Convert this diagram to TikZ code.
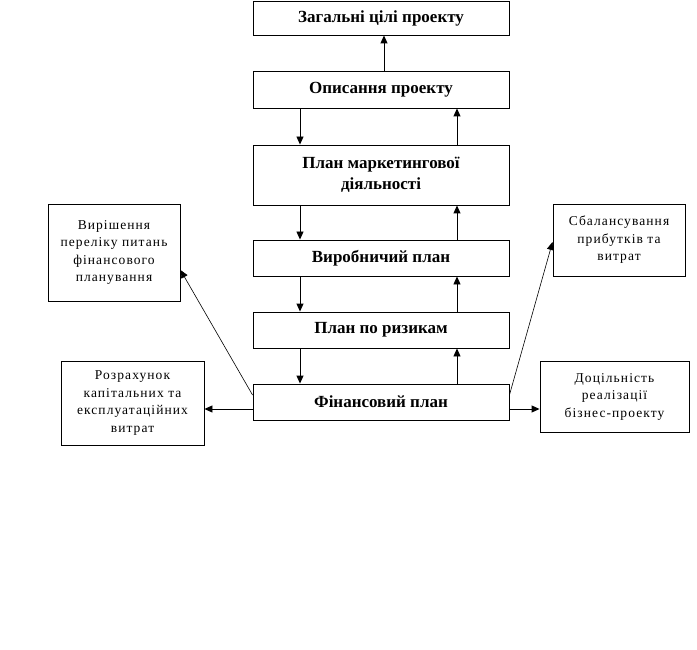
\documentclass[tikz,border=0pt]{standalone}
\usepackage{fontspec}
\setmainfont{Liberation Serif}
\newfontfamily\sidefont[LetterSpace=8]{Liberation Serif}
\usetikzlibrary{arrows.meta}
\begin{document}
\begin{tikzpicture}[x=1pt,y=-1pt,
  mainbox/.style={draw,line width=0.9pt,minimum width=256pt,inner sep=0pt,align=center,
    font=\fontsize{17}{21}\selectfont\bfseries},
  sidebox/.style={draw,line width=0.9pt,inner sep=0pt,align=center,
    font=\sidefont\fontsize{13.5}{17.5}\selectfont},
  arr/.style={line width=0.9pt,-{Triangle[length=8pt,width=7pt]}},
  thinarr/.style={line width=0.6pt,-{Triangle[length=8pt,width=7pt]}}]
\useasboundingbox (0,0) rectangle (697,650);
% main column
\node[mainbox,minimum height=34pt] (b1) at (381,18) {Загальні цілі проекту};
\node[mainbox,minimum height=37pt] (b2) at (381,89.5) {Описання проекту};
\node[mainbox,minimum height=60pt] (b3) at (381,175) {План маркетингової\\діяльності};
\node[mainbox,minimum height=36pt] (b4) at (381,258) {Виробничий план};
\node[mainbox,minimum height=36pt] (b5) at (381,330) {План по ризикам};
\node[mainbox,minimum height=36pt] (b6) at (381,402) {Фінансовий план};
% side boxes
\node[sidebox,minimum width=132pt,minimum height=97pt] (s1) at (114,252.5) {Вирішення\\переліку питань\\фінансового\\планування};
\node[sidebox,minimum width=143pt,minimum height=84pt] (s2) at (132.5,403) {Розрахунок\\капітальних та\\експлуатаційних\\витрат};
\node[sidebox,minimum width=132pt,minimum height=72pt] (s3) at (619,240) {Сбалансування\\прибутків та\\витрат};
\node[sidebox,minimum width=149pt,minimum height=71pt] (s4) at (614.5,396.5) {Доцільність\\реалізації\\бізнес-проекту};
% helper coordinates
\coordinate (L) at (300,0);
\coordinate (R) at (457,0);
\coordinate (C) at (384,0);
\coordinate (fy) at (0,409);
\coordinate (dy) at (0,395);
\coordinate (ly) at (0,270);
\coordinate (ry) at (0,242);
% vertical connectors
\draw[arr] (b2.north -| C) -- (b1.south -| C);
\draw[arr] (b2.south -| L) -- (b3.north -| L);
\draw[arr] (b3.north -| R) -- (b2.south -| R);
\draw[arr] (b3.south -| L) -- (b4.north -| L);
\draw[arr] (b4.north -| R) -- (b3.south -| R);
\draw[arr] (b4.south -| L) -- (b5.north -| L);
\draw[arr] (b5.north -| R) -- (b4.south -| R);
\draw[arr] (b5.south -| L) -- (b6.north -| L);
\draw[arr] (b6.north -| R) -- (b5.south -| R);
% side connectors
\draw[arr] (b6.west |- fy) -- (s2.east |- fy);
\draw[arr] (b6.east |- fy) -- (s4.west |- fy);
\draw[thinarr] (b6.west |- dy) -- (s1.east |- ly);
\draw[thinarr] (b6.east |- dy) -- (s3.west |- ry);
\end{tikzpicture}
\end{document}
